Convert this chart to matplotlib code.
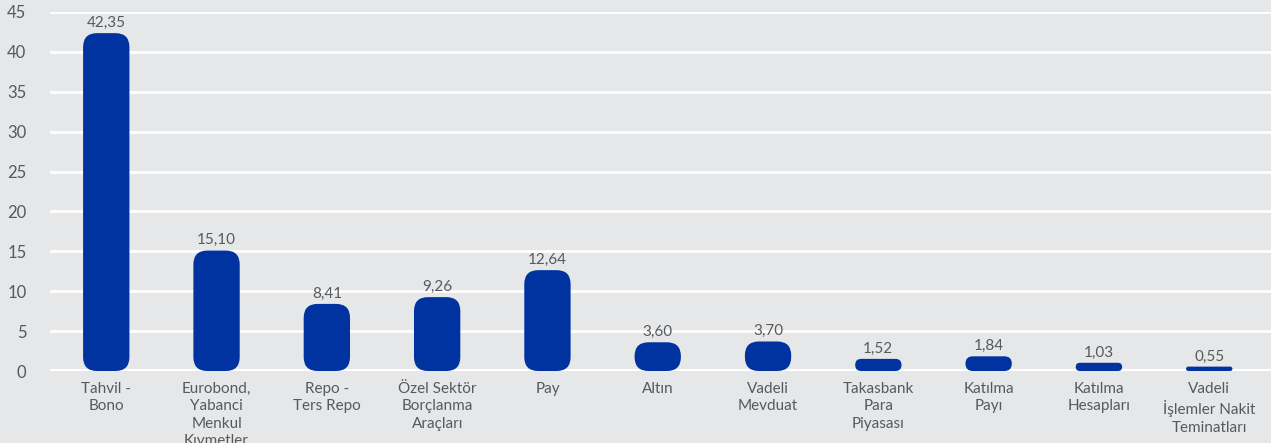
import matplotlib
matplotlib.use('Agg')
import matplotlib.pyplot as plt
from matplotlib.patches import FancyBboxPatch

# veriler
kategoriler = ['Tahvil -\nBono', 'Eurobond,\nYabanci\nMenkul\nKıymetler', 'Repo -\nTers Repo',
               'Özel Sektör\nBorçlanma\nAraçları', 'Pay', 'Altın', 'Vadeli\nMevduat',
               'Takasbank\nPara\nPiyasası', 'Katılma\nPayı', 'Katılma\nHesapları',
               'Vadeli\nİşlemler Nakit\nTeminatları']
degerler = [42.35, 15.10, 8.41, 9.26, 12.64, 3.60, 3.70, 1.52, 1.84, 1.03, 0.55]
y_ticks = [0, 5, 10, 15, 20, 25, 30, 35, 40, 45]

arka = '#e6e7e8'
mavi = '#0033a0'
yazi = '#58595b'

plt.rcParams['font.family'] = ['Lato', 'DejaVu Sans']

W, H, dpi = 1271, 443, 100
fig = plt.figure(figsize=(W / dpi, H / dpi), dpi=dpi, facecolor=arka)
sol, alt, ust = 50 / W, 72 / H, 431 / H
ax = fig.add_axes([sol, alt, 1 - sol, ust - alt], facecolor=arka)

x0, x1 = -0.51, 10.56
ax.set_xlim(x0, x1)
ax.set_ylim(0, 45)

# piksel / birim
xppu = (W * (1 - sol)) / (x1 - x0)
yppu = (H * (ust - alt)) / 45
aspect = xppu / yppu

genislik = 0.42
for i, v in enumerate(degerler):
    r_px = min(14, v * yppu / 2, genislik * xppu / 2)
    p = FancyBboxPatch((i - genislik / 2, 0), genislik, v,
                       boxstyle='round,pad=0,rounding_size=%f' % (r_px / xppu),
                       mutation_aspect=aspect, facecolor=mavi, edgecolor='none',
                       zorder=3)
    ax.add_patch(p)
    ax.text(i, v + 0.4, ('%.2f' % v).replace('.', ','), ha='center', va='bottom',
            fontsize=11, color=yazi, zorder=4)

ax.set_yticks(y_ticks)
ax.set_yticklabels([str(t) for t in y_ticks], fontsize=12, color=yazi)
ax.set_xticks(range(len(kategoriler)))
ax.set_xticklabels(kategoriler, fontsize=11, color=yazi, linespacing=1.3, va='top')
ax.tick_params(axis='y', length=0, pad=17)
ax.tick_params(axis='x', length=0, pad=8)

ax.grid(axis='y', color='white', linewidth=2, zorder=0)
ax.axhline(0, color='white', linewidth=3, zorder=1)
ax.grid(axis='x', visible=False)
ax.set_axisbelow(True)
for s in ax.spines.values():
    s.set_visible(False)

fig.savefig('out.png', dpi=dpi, facecolor=arka)
